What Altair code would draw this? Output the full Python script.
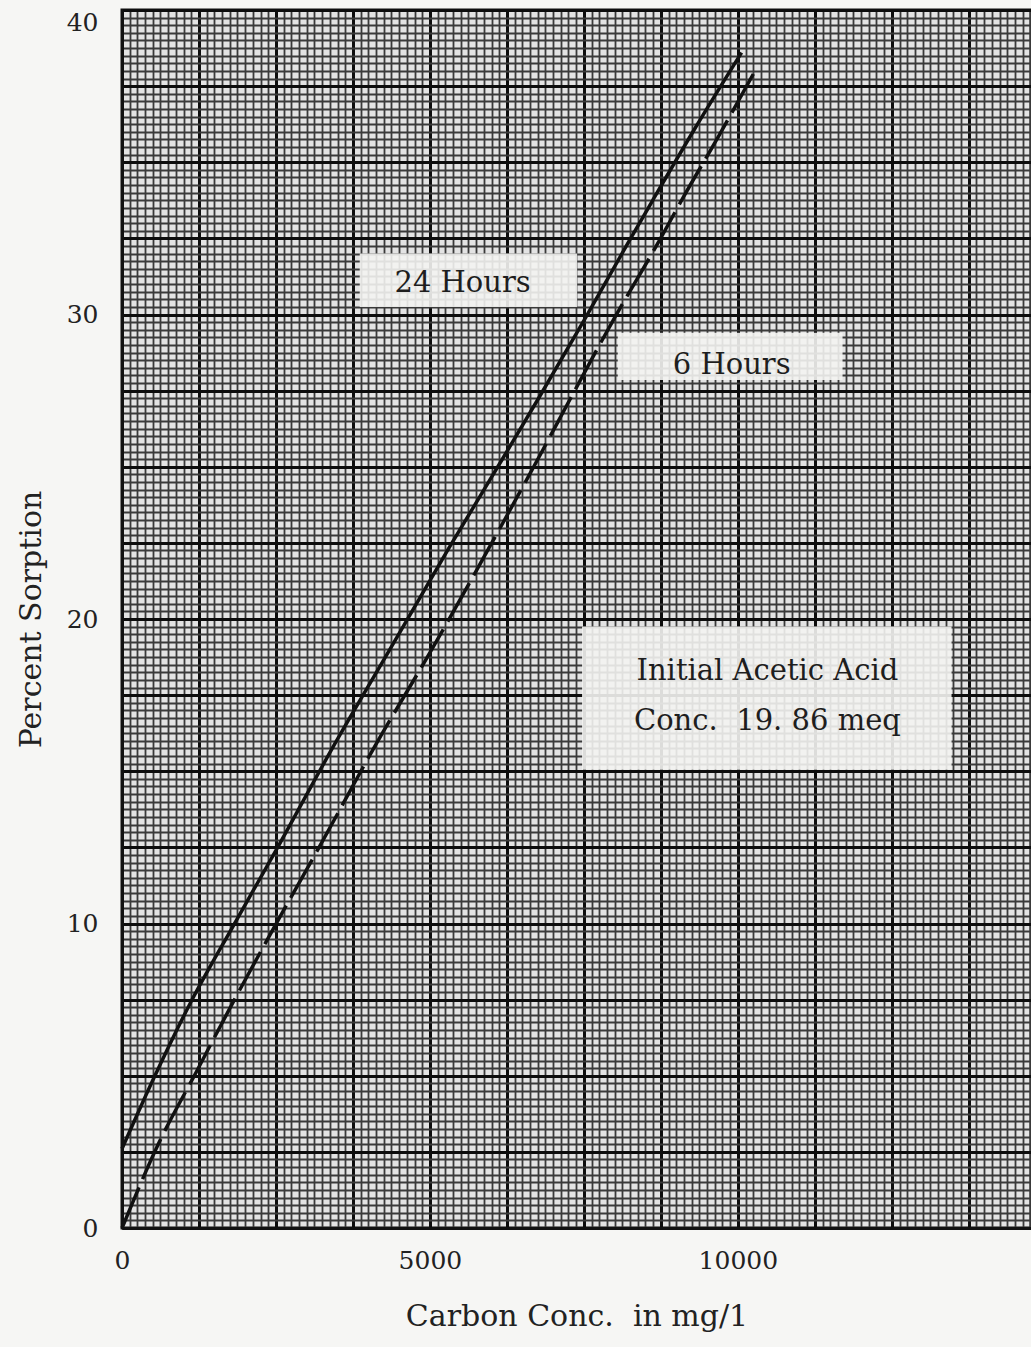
import altair as alt
import pandas as pd

# ---- data ----
x_24h = [0, 500, 1100, 1800, 2500, 3400, 4350, 5300, 6265, 6750, 7500, 8245, 8620, 9300, 10060]
y_24h = [2.6, 4.85, 7.35, 9.9, 12.4, 15.7, 19.0, 22.3, 25.55, 27.2, 29.8, 32.45, 33.76, 36.1, 38.6]

x_6h = [0, 600, 1200, 1800, 2560, 3200, 4100, 5030, 5950, 6833, 7271, 8000, 8732, 9089, 9700, 10306]
y_6h = [0, 2.8, 5.1, 7.4, 10.2, 12.5, 15.8, 19.0, 22.3, 25.55, 27.2, 29.9, 32.45, 33.76, 35.9, 38.1]

# annotation boxes (data units)
box_x1 = [3860, 8050, 7470]
box_x2 = [7390, 11700, 13470]
box_y1 = [30.25, 27.85, 15.05]
box_y2 = [32.0, 29.4, 19.75]

# annotation texts (data units)
label_text = ["24 Hours", "6 Hours", "Initial Acetic Acid", "Conc.\u00a0 19. 86 meq"]
label_x = [5530, 9900, 10480, 10480]
label_y = [31.05, 28.35, 18.3, 16.65]

# axis ticks
x_label_values = [0, 5000, 10000]
y_label_values = [0, 10, 20, 30, 40]
x_minor = [i * 125 for i in range(0, 119)]
x_major = [i * 1250 for i in range(0, 12)]
y_minor = [i * 0.25 for i in range(0, 161)]
y_major = [i * 2.5 for i in range(0, 17)]

X_DOMAIN = [0, 14760]
Y_DOMAIN = [0, 40]
FONT = "DejaVu Serif"

lines_df = pd.concat([
    pd.DataFrame({"x": x_24h, "y": y_24h, "series": "24 Hours"}),
    pd.DataFrame({"x": x_6h, "y": y_6h, "series": "6 Hours"}),
])
boxes_df = pd.DataFrame({"x1": box_x1, "x2": box_x2, "y1": box_y1, "y2": box_y2})
labels_df = pd.DataFrame({"t": label_text, "x": label_x, "y": label_y})

xs = alt.Scale(domain=X_DOMAIN, nice=False, zero=False)
ys = alt.Scale(domain=Y_DOMAIN, nice=False, zero=False)

grid_axis_common = dict(labels=False, ticks=False, domain=False, title=None)

# minor grid carried by the boxes layer
boxes = alt.Chart(boxes_df).mark_rect(color="#f3f3f1", opacity=0.9).encode(
    x=alt.X("x1:Q", scale=xs, axis=alt.Axis(values=x_minor, grid=True, gridColor="#3a3a3a",
                                             gridWidth=1.8, orient="bottom", **grid_axis_common)),
    x2="x2:Q",
    y=alt.Y("y1:Q", scale=ys, axis=alt.Axis(values=y_minor, grid=True, gridColor="#3a3a3a",
                                             gridWidth=1.8, orient="left", **grid_axis_common)),
    y2="y2:Q",
)

# major grid + labels carried by the solid line
solid = alt.Chart(lines_df).transform_filter(alt.datum.series == "24 Hours").mark_line(
    color="#111111", strokeWidth=3.5, interpolate="monotone"
).encode(
    x=alt.X("x:Q", scale=xs, axis=alt.Axis(
        values=x_major, grid=True, gridColor="#0d0d0d", gridWidth=3, orient="bottom",
        ticks=False, tickSize=0, domain=True, domainColor="#111", domainWidth=3,
        labelExpr="datum.value % 5000 == 0 ? datum.label : ''",
        labelFlush=False, labelOverlap=False, labelFont=FONT, labelFontSize=25,
        labelColor="#222", labelPadding=20, format="d",
        title="Carbon Conc.\u00a0 in mg/1", titleFont=FONT, titleFontSize=30,
        titleFontWeight="normal", titleColor="#222", titlePadding=28)),
    y=alt.Y("y:Q", scale=ys, axis=alt.Axis(
        values=y_major, grid=True, gridColor="#0d0d0d", gridWidth=3, orient="left",
        ticks=False, tickSize=0, domain=True, domainColor="#111", domainWidth=3,
        labelExpr="datum.value % 10 == 0 ? datum.label : ''",
        labelBaseline={"condition": {"test": "datum.value == 40", "value": "top"}, "value": "middle"},
        labelFlush=False, labelOverlap=False, labelFont=FONT, labelFontSize=25,
        labelColor="#222", labelPadding=24,
        title="Percent Sorption", titleFont=FONT, titleFontSize=30,
        titleFontWeight="normal", titleColor="#222", titlePadding=20)),
)

dashed = alt.Chart(lines_df).transform_filter(alt.datum.series == "6 Hours").mark_line(
    color="#111111", strokeWidth=3.5, strokeDash=[44, 9], interpolate="monotone"
).encode(
    x=alt.X("x:Q", scale=xs, axis=None),
    y=alt.Y("y:Q", scale=ys, axis=None),
)

texts = alt.Chart(labels_df).mark_text(
    font=FONT, fontSize=29, color="#1e1e1e", align="center", baseline="middle"
).encode(
    x=alt.X("x:Q", scale=xs, axis=None),
    y=alt.Y("y:Q", scale=ys, axis=None),
    text="t:N",
)

chart = alt.layer(boxes, solid, dashed, texts).resolve_axis(
    x="independent", y="independent"
).properties(
    width=909, height=1218,
    autosize=alt.AutoSizeParams(type="none"),
    padding={"left": 122, "top": 10, "right": 0, "bottom": 119},
    background="#f6f6f4",
).configure_view(
    fill="#e3e3e3", stroke="#111111", strokeWidth=3
)

chart.save("out.html", embed_options={"renderer": "svg", "actions": False})
